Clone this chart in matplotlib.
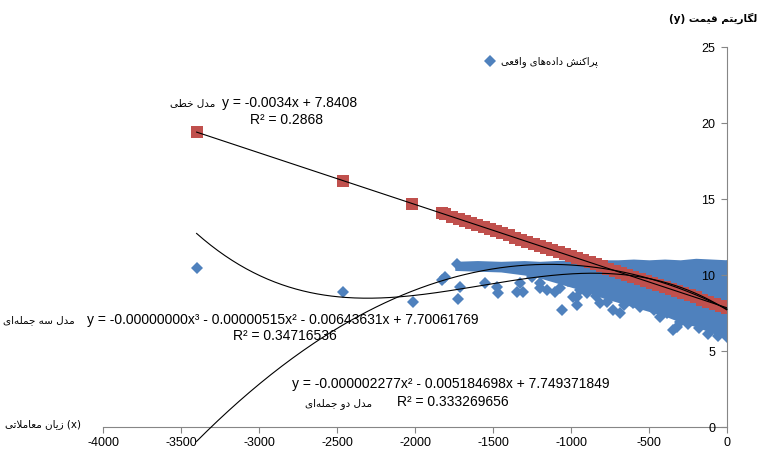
import numpy as np
import matplotlib
matplotlib.use('Agg')
import matplotlib.pyplot as plt
from matplotlib.lines import Line2D

plt.rcParams['font.family'] = ['Liberation Sans', 'DejaVu Sans']
plt.rcParams['axes.unicode_minus'] = False

#---------------------------------------------
# DATA
#---------------------------------------------

# isolated real observations (blue diamonds)
obs_x = [-3400, -2460, -2011, -1829, -1808, -1733, -1723, -1712, -1551, -1477, -1466,
         -1349, -1327, -1306, -1199, -1199, -1157, -1103, -1071, -1060, -987,
         -964, -964, -900, -878, -814, -771, -729, -686, -644, -601,
         -558, -515, -429, -386, -344, -322, -301, -250, -180, -120,
         -60, 0, 0, 0, 0, 0, 0, -1250, -1020, -940, -840, -660, -470]
obs_y = [10.46, 8.9, 8.24, 9.67, 9.89, 10.72, 8.40, 9.23, 9.45, 9.23, 8.8,
         8.9, 9.45, 8.9, 9.45, 9.12, 9.01, 8.9, 9.12, 7.72, 8.57,
         8.03, 8.57, 8.8, 9.12, 8.14, 8.24, 7.7, 7.48, 8.36, 8.14,
         7.92, 8.57, 7.26, 7.48, 6.38, 6.6, 6.93, 6.8, 6.5, 6.1,
         6.0, 5.9, 6.8, 7.8, 8.8, 9.8, 10.6, 9.9, 9.6, 9.0, 8.6, 8.0, 7.7]

# dense part of the observation cloud: upper and lower edge
cloud_x = [-1745, -1600, -1450, -1300, -1200, -1100, -1000, -900, -800,
           -700, -600, -500, -400, -300, -200, -100, 0]
cloud_top = [10.9, 10.95, 10.9, 10.95, 10.9, 10.95, 11.0, 10.95, 11.0,
             11.0, 11.05, 11.0, 11.05, 11.0, 11.1, 11.05, 11.0]
cloud_bot = [10.3, 10.25, 10.2, 10.0, 9.8, 9.5, 9.2, 8.9, 8.5,
             8.2, 7.9, 7.6, 7.3, 6.9, 6.6, 6.2, 5.8]

# linear model values (red squares)
model_x = [-3400, -2460, -2018, -1830, -1810,
           -1760, -1720, -1680, -1640, -1600, -1560, -1520, -1480, -1440, -1400,
           -1360, -1320, -1280, -1240, -1200, -1160, -1120, -1080, -1040, -1000,
           -960, -920, -880, -840, -800, -760, -720, -680, -640, -600,
           -560, -520, -480, -440, -400, -360, -320, -280, -240, -200,
           -160, -120, -80, -40, 0]
model_y = [19.40, 16.20, 14.70, 14.06, 13.99,
           13.82, 13.69, 13.55, 13.42, 13.28, 13.14, 13.01, 12.87, 12.74, 12.60,
           12.46, 12.33, 12.19, 12.06, 11.92, 11.78, 11.65, 11.51, 11.38, 11.24,
           11.10, 10.97, 10.83, 10.70, 10.56, 10.42, 10.29, 10.15, 10.02, 9.88,
           9.74, 9.61, 9.47, 9.34, 9.20, 9.06, 8.93, 8.79, 8.66, 8.52,
           8.38, 8.25, 8.11, 7.98, 7.84]

# trendline coefficients printed on the chart
lin_coef = [-0.0034, 7.8408]
quad_coef = [-0.000002277, -0.005184698, 7.749371849]
# the x^3 term is shown as -0.00000000 on the chart (rounded)
cub_coef = [-0.000000001086, -0.00000515, -0.00643631, 7.70061769]

#---------------------------------------------
# Persian text: join letters + right-to-left order
#---------------------------------------------
FORMS = {  # isolated, final, initial, medial
    '\u0627': ('\uFE8D', '\uFE8E', None, None),
    '\u067E': ('\uFB56', '\uFB57', '\uFB58', '\uFB59'),
    '\u062A': ('\uFE95', '\uFE96', '\uFE97', '\uFE98'),
    '\u062C': ('\uFE9D', '\uFE9E', '\uFE9F', '\uFEA0'),
    '\u062E': ('\uFEA5', '\uFEA6', '\uFEA7', '\uFEA8'),
    '\u062F': ('\uFEA9', '\uFEAA', None, None),
    '\u0631': ('\uFEAD', '\uFEAE', None, None),
    '\u0632': ('\uFEAF', '\uFEB0', None, None),
    '\u0633': ('\uFEB1', '\uFEB2', '\uFEB3', '\uFEB4'),
    '\u0634': ('\uFEB5', '\uFEB6', '\uFEB7', '\uFEB8'),
    '\u0637': ('\uFEC1', '\uFEC2', '\uFEC3', '\uFEC4'),
    '\u0639': ('\uFEC9', '\uFECA', '\uFECB', '\uFECC'),
    '\u0642': ('\uFED5', '\uFED6', '\uFED7', '\uFED8'),
    '\u0644': ('\uFEDD', '\uFEDE', '\uFEDF', '\uFEE0'),
    '\u0645': ('\uFEE1', '\uFEE2', '\uFEE3', '\uFEE4'),
    '\u0646': ('\uFEE5', '\uFEE6', '\uFEE7', '\uFEE8'),
    '\u0647': ('\uFEE9', '\uFEEA', '\uFEEB', '\uFEEC'),
    '\u0648': ('\uFEED', '\uFEEE', None, None),
    '\u06A9': ('\uFB8E', '\uFB8F', '\uFB90', '\uFB91'),
    '\u06AF': ('\uFB92', '\uFB93', '\uFB94', '\uFB95'),
    '\u06CC': ('\uFBFC', '\uFBFD', '\uFBFE', '\uFBFF'),
}
FORMS['\u064A'] = FORMS['\u06CC']
FORMS['\u0643'] = FORMS['\u06A9']


def fa(text):
    chars = list(text)
    out = []
    i = 0
    while i < len(chars):
        c = chars[i]
        if c not in FORMS:
            if c != '\u200c':
                out.append(c)
            i += 1
            continue
        prev = chars[i - 1] if i > 0 else ''
        linked_prev = prev in FORMS and FORMS[prev][2] is not None
        nxt = chars[i + 1] if i + 1 < len(chars) else ''
        if c == '\u0644' and nxt == '\u0627':   # lam-alef
            out.append('\uFEFC' if linked_prev else '\uFEFB')
            i += 2
            continue
        linked_next = FORMS[c][2] is not None and nxt in FORMS
        iso, fin, ini, med = FORMS[c]
        if linked_prev and linked_next:
            out.append(med)
        elif linked_prev:
            out.append(fin)
        elif linked_next:
            out.append(ini)
        else:
            out.append(iso)
        i += 1
    return ''.join(reversed(out))


FA = ['DejaVu Sans']
blue = '#4F81BD'
red = '#C0504D'

#---------------------------------------------
# PLOT
#---------------------------------------------
fig = plt.figure(figsize=(7.59, 4.55), dpi=100)
ax = fig.add_axes([103 / 759, 1 - 427 / 455, 624 / 759, 380 / 455])

ax.fill_between(cloud_x, cloud_bot, cloud_top, color=blue, lw=0, zorder=1)
ax.plot(obs_x, obs_y, 'D', color=blue, ms=6, mew=0, zorder=1)

ax.plot(model_x, model_y, 's', color=red, ms=8, mew=0, zorder=2)

xs = np.linspace(min(model_x), 0, 300)
ax.plot(xs, np.polyval(lin_coef, xs), color='black', lw=0.8, zorder=3)
ax.plot(xs, np.polyval(quad_coef, xs), color='black', lw=0.8, zorder=3, clip_on=False)
ax.plot(xs, np.polyval(cub_coef, xs), color='black', lw=0.8, zorder=3)

ax.set_xlim(-4000, 0)
ax.set_ylim(0, 25)
ax.set_xticks(np.arange(-4000, 1, 500))
ax.set_yticks(np.arange(0, 26, 5))

ax.spines['top'].set_visible(False)
ax.spines['right'].set_visible(False)
ax.spines['left'].set_position(('data', 0))
for s in ['left', 'bottom']:
    ax.spines[s].set_color('#868686')
    ax.spines[s].set_linewidth(0.8)
ax.tick_params(axis='both', direction='out', length=4.5, width=0.8,
               color='#868686', labelsize=9, labelcolor='black')
ax.tick_params(axis='y', pad=4)
ax.tick_params(axis='x', pad=3)
ax.set_axisbelow(False)
for lab in ax.get_yticklabels():
    lab.set_zorder(5)

# legend
h = Line2D([], [], marker='D', ls='', color=blue, ms=6, mew=0)
ax.legend([h], [fa('پراکنش داده‌های واقعی')], loc='center left',
          bbox_to_anchor=((480 - 103) / 624, (427 - 62) / 380), frameon=False,
          borderpad=0, handlelength=1, handletextpad=0.6,
          prop={'family': FA, 'size': 7.2})

# axis titles
fig.text(757 / 759, 1 - 18 / 455, '(y) ' + fa('لگاریتم قیمت'), ha='right', va='center',
         family=FA, size=7.5, weight='bold')
fig.text(5 / 759, 1 - 424 / 455, fa('زیان معاملاتی') + ' (x)', ha='left', va='center',
         family=FA, size=7.5)

# trendline labels
fig.text(215 / 759, 1 - 103 / 455, fa('مدل خطی'), ha='right', va='center', family=FA, size=7.5)
fig.text(222 / 759, 1 - 103 / 455, 'y = -0.0034x + 7.8408', ha='left', va='center', size=10)
fig.text(250 / 759, 1 - 120 / 455, 'R² = 0.2868', ha='left', va='center', size=10)

fig.text(75 / 759, 1 - 320 / 455, fa('مدل سه جمله‌ای'), ha='right', va='center', family=FA, size=7.5)
fig.text(87 / 759, 1 - 320 / 455, 'y = -0.00000000x³ - 0.00000515x² - 0.00643631x + 7.70061769',
         ha='left', va='center', size=10)
fig.text(233 / 759, 1 - 336 / 455, 'R² = 0.34716536', ha='left', va='center', size=10)

fig.text(292 / 759, 1 - 384 / 455, 'y = -0.000002277x² - 0.005184698x + 7.749371849',
         ha='left', va='center', size=10)
fig.text(397 / 759, 1 - 402 / 455, 'R² = 0.333269656', ha='left', va='center', size=10)
fig.text(372 / 759, 1 - 404 / 455, fa('مدل دو جمله‌ای'), ha='right', va='center', family=FA, size=7.5)

fig.savefig('out.png', dpi=100)
